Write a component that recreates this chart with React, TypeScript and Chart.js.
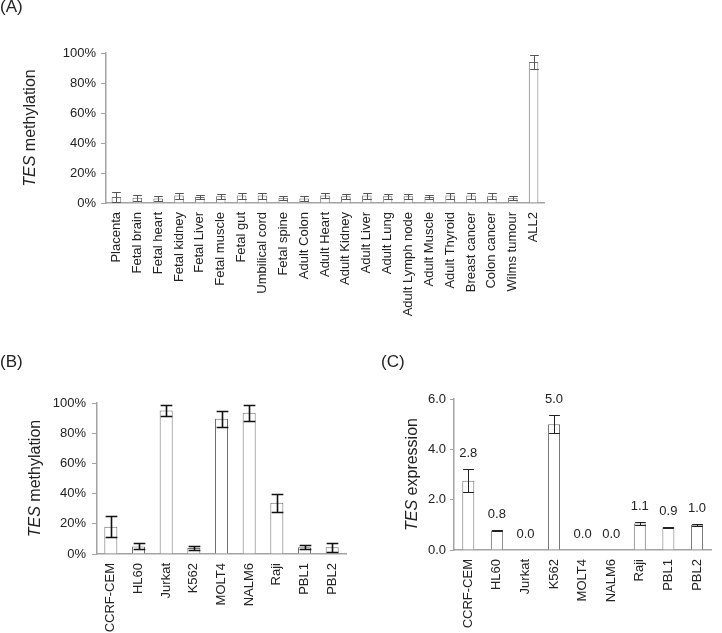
import React, { useEffect, useRef } from "react";
import { Chart, registerables } from "chart.js";
Chart.register(...registerables);

const tissueLabels = ["Placenta", "Fetal brain", "Fetal heart", "Fetal kidney", "Fetal Liver", "Fetal muscle", "Fetal gut", "Umbilical cord", "Fetal spine", "Adult Colon", "Adult Heart", "Adult Kidney", "Adult Liver", "Adult Lung", "Adult Lymph node", "Adult Muscle", "Adult Thyroid", "Breast cancer", "Colon cancer", "Wilms tumour", "ALL2"];
const tissueMethylation = [4, 3.5, 3, 5, 4, 4.5, 5, 5, 3.5, 3, 5, 4.5, 5, 4.5, 4.5, 4, 5, 5, 4.5, 3.5, 94];
const tissueMethylationErr = [3.5, 2, 1.5, 2, 1.5, 1.5, 2, 2, 1.5, 1.5, 1.5, 1.5, 2, 1.5, 1.5, 1.5, 2, 2, 2, 1.5, 4.5];

const cellLines = ["CCRF-CEM", "HL60", "Jurkat", "K562", "MOLT4", "NALM6", "Raji", "PBL1", "PBL2"];
const cellMethylation = [18, 5, 95, 4, 89.5, 93.5, 34, 4.5, 4.5];
const cellMethylationErr = [7, 2, 3.5, 1.5, 5.5, 5.5, 6, 1.5, 3];
const cellExpression = [2.75, 0.77, 0, 5.0, 0, 0, 1.05, 0.9, 1.0];
const cellExpressionErr = [0.45, 0.03, 0, 0.35, 0, 0, 0.05, 0.03, 0.03];
const expressionLabels = ["2.8", "0.8", "0.0", "5.0", "0.0", "0.0", "1.1", "0.9", "1.0"];

const percentMax = 100;
const percentStep = 20;
const expressionMax = 6;
const expressionStep = 2;

const FONT = "'Liberation Sans', Arial, Helvetica, sans-serif";
const TEXT = "#222222";
const AXIS = "#a3a3a3";

type PanelProps = {
  labels: string[];
  values: number[];
  errors: number[];
  yMax: number;
  step: number;
  fmt: (v: number) => string;
  width: number;
  height: number;
  area: { left: number; top: number; right: number; bottom: number };
  titleItalic: string;
  titleRest: string;
  titleX: number;
  errColor: string;
  errWidth: number;
  barPct: number;
  tickLen: number;
  tickPad: number;
  valueLabels?: string[];
  style: React.CSSProperties;
};

function BarPanel(p: PanelProps) {
  const ref = useRef<HTMLCanvasElement>(null);
  useEffect(() => {
    const plugin = {
      id: "extras",
      afterDatasetsDraw(chart: any) {
        const ctx = chart.ctx;
        const meta = chart.getDatasetMeta(0);
        const ys = chart.scales.y;
        ctx.save();
        ctx.strokeStyle = p.errColor;
        ctx.lineWidth = p.errWidth;
        meta.data.forEach((bar: any, i: number) => {
          const e = p.errors[i];
          const v = p.values[i];
          if (!e) return;
          const x = Math.round(bar.x) + 0.5;
          const w = bar.width * 0.9;
          const yt = Math.round(ys.getPixelForValue(v + e)) + 0.5;
          const yb = Math.round(ys.getPixelForValue(Math.max(0, v - e))) + 0.5;
          ctx.beginPath();
          ctx.moveTo(x, yt);
          ctx.lineTo(x, yb);
          ctx.moveTo(x - w / 2, yt);
          ctx.lineTo(x + w / 2, yt);
          ctx.moveTo(x - w / 2, yb);
          ctx.lineTo(x + w / 2, yb);
          ctx.stroke();
        });
        if (p.valueLabels) {
          ctx.fillStyle = TEXT;
          ctx.font = `13px ${FONT}`;
          ctx.textAlign = "center";
          ctx.textBaseline = "alphabetic";
          meta.data.forEach((bar: any, i: number) => {
            const top = ys.getPixelForValue(p.values[i] + p.errors[i]);
            ctx.fillText(p.valueLabels![i], bar.x, top - 12);
          });
        }
        const ca = chart.chartArea;
        const cy = (ca.top + ca.bottom) / 2;
        ctx.translate(p.titleX, cy);
        ctx.rotate(-Math.PI / 2);
        ctx.fillStyle = TEXT;
        ctx.textBaseline = "middle";
        ctx.textAlign = "left";
        ctx.font = `italic 16px ${FONT}`;
        const w1 = ctx.measureText(p.titleItalic).width;
        ctx.font = `16px ${FONT}`;
        const w2 = ctx.measureText(p.titleRest).width;
        const start = -(w1 + w2) / 2;
        ctx.font = `italic 16px ${FONT}`;
        ctx.fillText(p.titleItalic, start, 0);
        ctx.font = `16px ${FONT}`;
        ctx.fillText(p.titleRest, start + w1, 0);
        ctx.restore();
      },
    };
    const chart = new Chart(ref.current as HTMLCanvasElement, {
      type: "bar",
      data: {
        labels: p.labels,
        datasets: [
          {
            data: p.values,
            backgroundColor: "#ffffff",
            borderColor: "#6e6e6e",
            borderWidth: 1,
            barPercentage: p.barPct,
            categoryPercentage: 1,
          },
        ],
      },
      options: {
        animation: false,
        responsive: false,
        devicePixelRatio: 1,
        layout: {
          padding: { left: 0, top: p.area.top, right: p.width - p.area.right, bottom: 0 },
        },
        plugins: { legend: { display: false }, tooltip: { enabled: false } },
        scales: {
          x: {
            grid: { display: false, drawTicks: false },
            border: { display: true, color: AXIS, width: 1.5 },
            ticks: {
              color: TEXT,
              font: { family: FONT, size: 13 },
              minRotation: 90,
              maxRotation: 90,
              padding: 9,
              autoSkip: false,
            },
            afterFit: (s: any) => {
              s.height = p.height - p.area.bottom;
            },
          },
          y: {
            min: 0,
            max: p.yMax,
            grid: { display: true, drawOnChartArea: false, drawTicks: true, tickLength: p.tickLen, color: AXIS },
            border: { display: true, color: AXIS, width: 1.5 },
            ticks: {
              stepSize: p.step,
              color: TEXT,
              font: { family: FONT, size: 13 },
              padding: p.tickPad,
              callback: (v: any) => p.fmt(Number(v)),
            },
            afterFit: (s: any) => {
              s.width = p.area.left;
            },
          },
        },
      } as any,
      plugins: [plugin],
    });
    return () => chart.destroy();
  }, []);
  return (
    <canvas
      ref={ref}
      width={p.width}
      height={p.height}
      style={{ position: "absolute", width: p.width, height: p.height, ...p.style }}
    />
  );
}

const panelLabel: React.CSSProperties = {
  position: "absolute",
  fontFamily: FONT,
  fontSize: 17,
  lineHeight: "20px",
  color: TEXT,
};

export default function App() {
  const pct = (v: number) => `${v}%`;
  const dec = (v: number) => v.toFixed(1);
  return (
    <div style={{ position: "absolute", left: 0, top: 0, width: 722, height: 633, background: "#fff", overflow: "hidden" }}>
      <BarPanel
        labels={tissueLabels}
        values={tissueMethylation}
        errors={tissueMethylationErr}
        yMax={percentMax}
        step={percentStep}
        fmt={pct}
        width={722}
        height={350}
        area={{ left: 106, top: 53, right: 544, bottom: 203 }}
        titleItalic="TES"
        titleRest=" methylation"
        titleX={31}
        errColor="#555555"
        errWidth={1}
        barPct={0.46}
        tickLen={5}
        tickPad={5}
        style={{ left: 0, top: 0 }}
      />
      <BarPanel
        labels={cellLines}
        values={cellMethylation}
        errors={cellMethylationErr}
        yMax={percentMax}
        step={percentStep}
        fmt={pct}
        width={360}
        height={263}
        area={{ left: 97, top: 33, right: 346, bottom: 184 }}
        titleItalic="TES"
        titleRest=" methylation"
        titleX={36}
        errColor="#111111"
        errWidth={1.6}
        barPct={0.47}
        tickLen={5}
        tickPad={6}
        style={{ left: 0, top: 370 }}
      />
      <BarPanel
        labels={cellLines}
        values={cellExpression}
        errors={cellExpressionErr}
        yMax={expressionMax}
        step={expressionStep}
        fmt={dec}
        width={362}
        height={263}
        area={{ left: 94, top: 29, right: 354, bottom: 180 }}
        titleItalic="TES"
        titleRest=" expression"
        titleX={53}
        errColor="#222222"
        errWidth={1}
        barPct={0.42}
        tickLen={4}
        tickPad={4}
        valueLabels={expressionLabels}
        style={{ left: 360, top: 370 }}
      />
      <div style={{ ...panelLabel, left: 0, top: -3 }}>(A)</div>
      <div style={{ ...panelLabel, left: 0, top: 352 }}>(B)</div>
      <div style={{ ...panelLabel, left: 381, top: 352 }}>(C)</div>
    </div>
  );
}
